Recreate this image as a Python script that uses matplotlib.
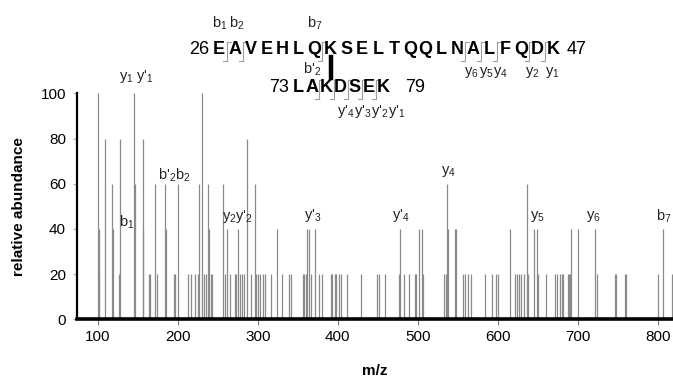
import matplotlib
matplotlib.use("Agg")
import matplotlib.pyplot as plt
from matplotlib.lines import Line2D

plt.rcParams['font.family'] = ['Liberation Sans', 'DejaVu Sans']
plt.rcParams['mathtext.fontset'] = 'custom'
plt.rcParams['mathtext.rm'] = 'Liberation Sans'
plt.rcParams['mathtext.it'] = 'Liberation Sans'

# ---- data ----
mz = [100, 101, 102, 109, 118, 119, 127, 128, 145, 146, 156, 157, 164, 165,
      172, 174, 184, 185, 195, 197, 200,
      213, 216, 222, 225, 227, 230, 233, 235, 238, 239, 241, 243,
      256, 259, 262, 265, 271, 273, 275, 278, 280, 283, 287, 292, 297, 298,
      300, 303, 306, 309, 317, 324, 330,
      339, 341, 356, 358, 360, 362, 364, 366, 372, 376, 380,
      391, 393, 396, 398, 402, 404, 411, 429, 449, 452, 459,
      477, 478, 483, 489, 497, 498, 502, 505, 507,
      533, 535, 537, 538, 547, 548, 556, 559, 563, 567,
      584, 593, 598, 600, 615, 622, 624, 626, 629, 633, 637, 638, 645, 649,
      650, 660, 672, 674, 678, 680, 682, 688, 689, 690, 692, 700,
      721, 724, 746, 748, 759, 760, 800, 806, 818]
intensity = [100, 40, 20, 80, 60, 40, 20, 80, 100, 60, 80, 40, 20, 20,
             60, 20, 60, 40, 20, 20, 60,
             20, 20, 20, 20, 60, 100, 20, 20, 60, 40, 20, 20,
             60, 20, 40, 20, 20, 20, 40, 20, 20, 20, 80, 20, 60, 20,
             20, 20, 20, 20, 20, 40, 20,
             20, 20, 20, 20, 20, 40, 40, 20, 40, 20, 20,
             20, 20, 20, 20, 20, 20, 20, 20, 20, 20, 20,
             20, 40, 20, 20, 20, 20, 40, 40, 20,
             20, 20, 60, 40, 40, 40, 20, 20, 20, 20,
             20, 20, 20, 20, 40, 20, 20, 20, 20, 20, 60, 20, 40, 40,
             20, 20, 20, 20, 20, 20, 20, 20, 20, 20, 40, 40,
             40, 20, 20, 20, 20, 20, 20, 40, 20]

ion_labels = ["y$_1$ y'$_1$", "b$_1$", "b'$_2$b$_2$", "y$_2$y'$_2$", "y'$_3$",
              "y'$_4$", "y$_4$", "y$_5$", "y$_6$", "b$_7$"]
ion_mz = [149, 136, 196, 275, 369, 479, 538, 649, 720, 808]
ion_y = [107.5, 43, 63.5, 45.5, 46, 46, 65.5, 45.5, 45.5, 45.5]

xticks = [100, 200, 300, 400, 500, 600, 700, 800]
yticks = [0, 20, 40, 60, 80, 100]

pep1 = list("EAVEHLQKSELTQQLNALFQDK")
pep2 = list("LAKDSEK")

W, H = 673, 383
fig = plt.figure(figsize=(W / 100, H / 100), dpi=100)
ax = fig.add_axes([77 / W, (H - 319.3) / H, (W - 77) / W, (319.3 - 93.3) / H])

ax.vlines(mz, 0, intensity, colors='#8a8a8a', linewidth=0.9)
ax.set_xlim(74, 819)
ax.set_ylim(0, 100)
ax.set_xticks(xticks)
ax.set_yticks(yticks)
ax.tick_params(axis='x', direction='out', length=4, width=0.8, color='#777777',
               labelsize=11, pad=4)
ax.tick_params(axis='y', direction='out', length=3, width=0.8, color='#aaaaaa',
               labelsize=11, pad=5)
for s in ['top', 'right']:
    ax.spines[s].set_visible(False)
ax.spines['bottom'].set_linewidth(2.6)
ax.spines['left'].set_linewidth(1.6)
ax.set_xlabel('m/z', fontsize=11, fontweight='bold', labelpad=14)
ax.set_ylabel('relative abundance', fontsize=11, fontweight='bold', labelpad=10)

for lab, x, y in zip(ion_labels, ion_mz, ion_y):
    ax.text(x, y, lab, ha='center', va='center', fontsize=10.5, color='#222222',
            clip_on=False)

# ---- peptide annotation (figure pixel coordinates) ----
def fx(px):
    return px / W

def fy(py):
    return 1 - py / H

def mark(xp, yc):
    col = '#a0a0a0'
    top, bot = yc - 8, yc + 11
    fig.add_artist(Line2D([fx(xp), fx(xp)], [fy(top), fy(bot)], color=col, lw=0.8))
    fig.add_artist(Line2D([fx(xp), fx(xp + 4)], [fy(top), fy(top)], color=col, lw=0.8))
    fig.add_artist(Line2D([fx(xp - 4), fx(xp)], [fy(bot), fy(bot)], color=col, lw=0.8))

row1_y, x0, step = 50, 219, 15.9
fig.text(fx(209), fy(row1_y), '26', ha='right', va='center', fontsize=13)
for i, c in enumerate(pep1):
    fig.text(fx(x0 + i * step), fy(row1_y), c, ha='center', va='center',
             fontsize=13, fontweight='bold')
fig.text(fx(567), fy(row1_y), '47', ha='left', va='center', fontsize=13)
for i in [0, 1, 6, 15, 16, 17, 19, 20]:
    mark(x0 + (i + 0.5) * step, row1_y)

row2_y, x2, step2 = 88, 298, 14.2
fig.text(fx(289), fy(row2_y), '73', ha='right', va='center', fontsize=13)
for i, c in enumerate(pep2):
    fig.text(fx(x2 + i * step2), fy(row2_y), c, ha='center', va='center',
             fontsize=13, fontweight='bold')
fig.text(fx(405), fy(row2_y), '79', ha='left', va='center', fontsize=13)
for i in [1, 2, 3, 4, 5]:
    mark(x2 + (i + 0.5) * step2, row2_y)

# cross-link bar
fig.add_artist(Line2D([fx(331), fx(331)], [fy(57), fy(78)], color='black', lw=3.2))

seq_labels = [("b$_1$", 220, 23), ("b$_2$", 237, 23), ("b$_7$", 315, 23),
              ("b'$_2$", 312, 69),
              ("y$_6$", 471, 73), ("y$_5$", 486, 73), ("y$_4$", 500, 73),
              ("y$_2$", 532, 73), ("y$_1$", 552, 73),
              ("y'$_4$", 346, 112), ("y'$_3$", 363, 112), ("y'$_2$", 380, 112),
              ("y'$_1$", 397, 112)]
for lab, px, py in seq_labels:
    fig.text(fx(px), fy(py), lab, ha='center', va='center', fontsize=10.5,
             color='#222222')

fig.savefig('out.png', dpi=100)
